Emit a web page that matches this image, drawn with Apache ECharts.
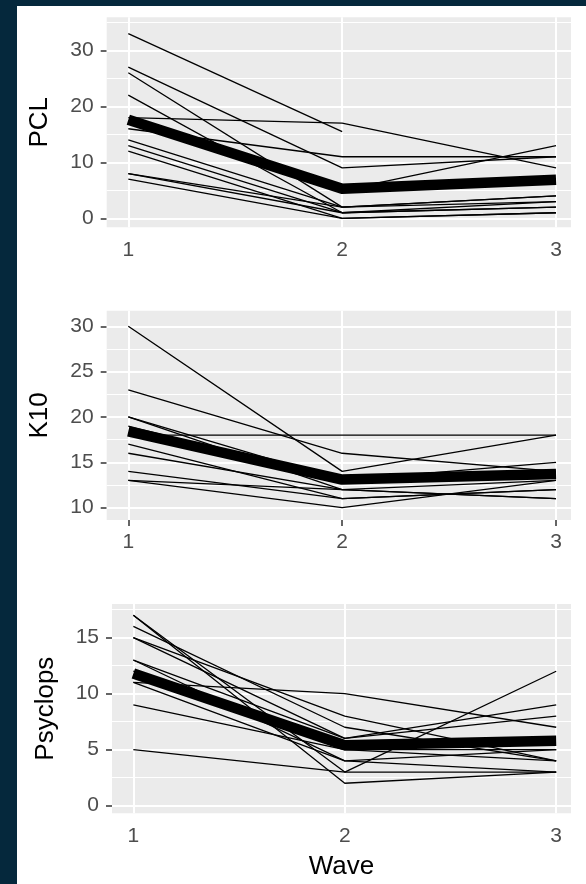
<!DOCTYPE html>
<html>
<head>
<meta charset="utf-8">
<script src="https://cdn.jsdelivr.net/npm/echarts@6/dist/echarts.min.js"></script>
<style>
  html, body { margin: 0; padding: 0; background: #05283c; width: 586px; height: 884px; overflow: hidden; }
  #paper { position: absolute; left: 17px; top: 6px; width: 569px; height: 878px; background: #ffffff; }
  #chart { position: absolute; left: 0; top: 0; width: 586px; height: 884px; }
</style>
</head>
<body>
<div id="paper"></div>
<div id="chart"></div>
<script>
// ---------- data ----------
const waves = [1, 2, 3];
const waveTicks = [1, 2, 3];

// PCL: individual trajectories (wave 1, 2, 3)
const pclLines = [
  [33, 15.5, null],
  [27, 9, 11],
  [26, 2, 4],
  [22, 1, 3],
  [18, 17, 9],
  [17, 5, 13],
  [16, 11, 11],
  [14, 2, 4],
  [13, 1, 2],
  [12, 0, 1],
  [8, 2, 3],
  [8, 1, 2],
  [7, 0, 1]
];
const pclMean = [17.6, 5.3, 6.9];
const pclTicks = [0, 10, 20, 30];
const pclMinor = [5, 15, 25, 35];

// K10
const k10Lines = [
  [30, 14, 18],
  [23, 16, 14],
  [20, 13, 15],
  [20, 12, 13],
  [18, 18, 18],
  [19, 13, 14],
  [17, 11, 12],
  [16, 12, 11],
  [14, 11, 12],
  [13, 10, 13],
  [13, 12, 11]
];
const k10Mean = [18.4, 13.1, 13.7];
const k10Ticks = [10, 15, 20, 25, 30];
const k10Minor = [12.5, 17.5, 22.5, 27.5];

// Psyclops
const psyLines = [
  [17, 2, 3],
  [17, 3, 12],
  [16, 7, 4],
  [15, 8, 4],
  [15, 6, 9],
  [13, 6, 8],
  [13, 4, 5],
  [11, 10, 7],
  [11, 4, 3],
  [9, 5, 4],
  [5, 3, 3],
  [12, 5, 5]
];
const psyMean = [11.8, 5.4, 5.8];
const psyTicks = [0, 5, 10, 15];
const psyMinor = [2.5, 7.5, 12.5, 17.5];

// ---------- layout / style ----------
const FONT = 'Liberation Sans, Arial, Helvetica, sans-serif';
const panels = [
  { name: 'PCL', lines: pclLines, mean: pclMean, ticks: pclTicks, minor: pclMinor,
    grid: { left: 106.7, top: 17.3, width: 464.3, height: 210 }, ymin: -1.6, ymax: 35.9, nameGap: 54 },
  { name: 'K10', lines: k10Lines, mean: k10Mean, ticks: k10Ticks, minor: k10Minor,
    grid: { left: 106.7, top: 310.7, width: 464.3, height: 209.3 }, ymin: 8.64, ymax: 31.72, nameGap: 54 },
  { name: 'Psyclops', lines: psyLines, mean: psyMean, ticks: psyTicks, minor: psyMinor,
    grid: { left: 112, top: 604, width: 459, height: 209.3 }, ymin: -0.68, ymax: 18.0, nameGap: 53 }
];

const toPts = arr => waves.map((w, i) => [w, arr[i]]);

const grids = [], xAxes = [], yAxes = [], series = [];
panels.forEach((p, i) => {
  grids.push(Object.assign({ show: true, backgroundColor: '#ebebeb', borderWidth: 0 }, p.grid));
  xAxes.push({
    type: 'value', gridIndex: i, min: 0.899, max: 3.07,
    name: i === 2 ? 'Wave' : '', nameLocation: 'middle', nameGap: 40.6,
    nameTextStyle: { fontSize: 26, color: '#000', fontFamily: FONT },
    axisLine: { show: false },
    axisTick: { show: true, customValues: waveTicks, length: 6, lineStyle: { color: '#333', width: 1.5 } },
    axisLabel: { show: true, customValues: waveTicks, fontSize: 21, color: '#4d4d4d', margin: 12, fontFamily: FONT },
    splitLine: { show: false }
  });
  yAxes.push({
    type: 'value', gridIndex: i, min: p.ymin, max: p.ymax,
    name: p.name, nameLocation: 'middle', nameGap: p.nameGap, nameRotate: 90,
    nameTextStyle: { fontSize: 26, color: '#000', fontFamily: FONT },
    axisLine: { show: false },
    axisTick: { show: true, customValues: p.ticks, length: 6, lineStyle: { color: '#333', width: 1.5 } },
    axisLabel: { show: true, customValues: p.ticks, fontSize: 21, color: '#4d4d4d', margin: 13, fontFamily: FONT },
    splitLine: { show: false }
  });
  const gridLines = [];
  p.minor.forEach(v => gridLines.push({ yAxis: v, lineStyle: { color: '#ffffff', width: 1, type: 'solid' } }));
  p.ticks.forEach(v => gridLines.push({ yAxis: v, lineStyle: { color: '#ffffff', width: 2, type: 'solid' } }));
  waveTicks.forEach(v => gridLines.push({ xAxis: v, lineStyle: { color: '#ffffff', width: 2, type: 'solid' } }));

  p.lines.forEach(l => {
    series.push({
      type: 'line', xAxisIndex: i, yAxisIndex: i, data: toPts(l), z: 2,
      symbol: 'none', showSymbol: false, silent: true, animation: false,
      connectNulls: false,
      lineStyle: { color: '#000', width: 1.3 }
    });
  });
  series.push({
    type: 'line', xAxisIndex: i, yAxisIndex: i, data: toPts(p.mean), z: 3,
    symbol: 'none', showSymbol: false, silent: true, animation: false,
    lineStyle: { color: '#000', width: 10.5, join: 'round' },
    markLine: {
      silent: true, z: 1, animation: false, symbol: ['none', 'none'],
      label: { show: false }, emphasis: { disabled: true },
      data: gridLines
    }
  });
});

const chart = echarts.init(document.getElementById('chart'), null, { renderer: 'canvas' });
chart.setOption({
  backgroundColor: 'transparent',
  animation: false,
  grid: grids,
  xAxis: xAxes,
  yAxis: yAxes,
  series: series
});
</script>
</body>
</html>
